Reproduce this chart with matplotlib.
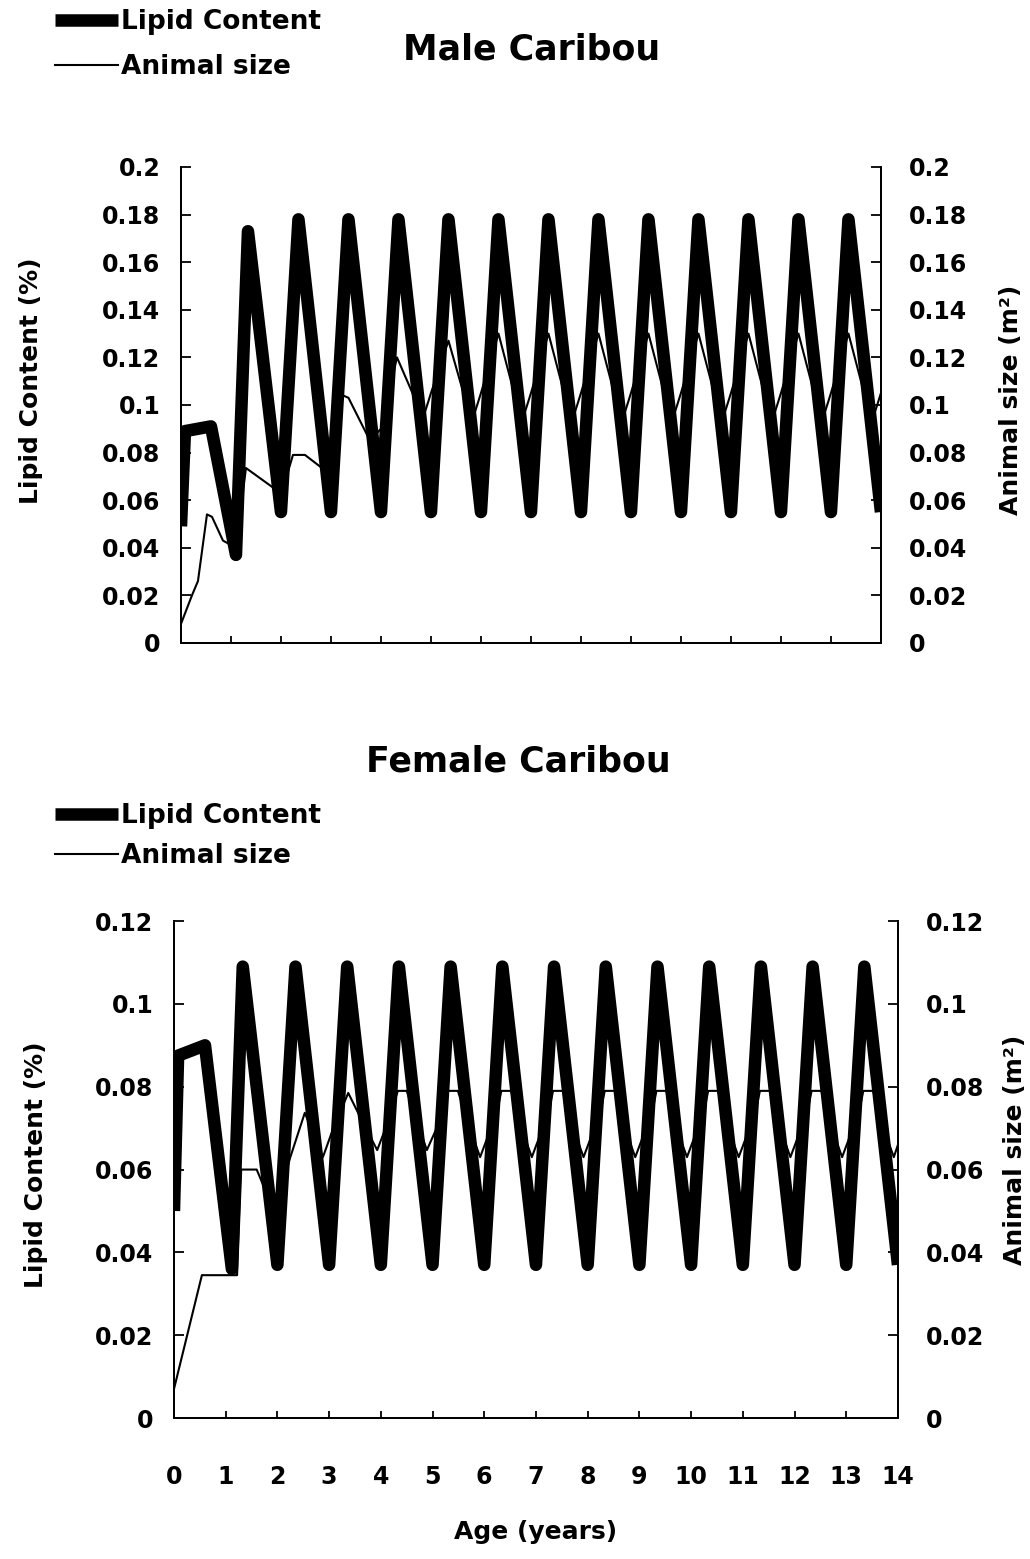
import matplotlib.pyplot as plt

plt.rcParams['font.family'] = ['DejaVu Sans']
plt.rcParams['font.weight'] = 'bold'
plt.rcParams['axes.labelweight'] = 'bold'

# ---- Male caribou ----
male_lipid_t = [0.0, 0.08, 0.6, 1.1, 1.34, 2.0, 2.35, 3.0, 3.35, 4.0, 4.35, 5.0, 5.35,
                6.0, 6.35, 7.0, 7.35, 8.0, 8.35, 9.0, 9.35, 10.0, 10.35, 11.0, 11.35,
                12.0, 12.35, 13.0, 13.35, 14.0]
male_lipid = [0.049, 0.089, 0.091, 0.037, 0.173, 0.055, 0.178, 0.055, 0.178, 0.055, 0.178,
              0.055, 0.178, 0.055, 0.178, 0.055, 0.178, 0.055, 0.178, 0.055, 0.178,
              0.055, 0.178, 0.055, 0.178, 0.055, 0.178, 0.055, 0.178, 0.055]

male_size_t = [0.0, 0.22, 0.34, 0.52, 0.62, 0.84, 1.1, 1.3, 1.86, 2.0, 2.24, 2.48, 2.82,
               3.0, 3.24, 3.35, 3.78, 4.0, 4.32, 4.65, 4.88, 5.0, 5.35, 5.65, 5.88,
               6.0, 6.35, 6.65, 6.88, 7.0, 7.35, 7.65, 7.88, 8.0, 8.35, 8.65, 8.88,
               9.0, 9.35, 9.65, 9.88, 10.0, 10.35, 10.65, 10.88, 11.0, 11.35, 11.65, 11.88,
               12.0, 12.35, 12.65, 12.88, 13.0, 13.35, 13.65, 13.88, 14.0]
male_size = [0.008, 0.020, 0.026, 0.054, 0.053, 0.043, 0.040, 0.0735, 0.065, 0.062, 0.079, 0.079, 0.0735,
             0.072, 0.104, 0.103, 0.085, 0.090, 0.120, 0.104, 0.097, 0.105, 0.127, 0.105, 0.097,
             0.105, 0.130, 0.106, 0.097, 0.105, 0.130, 0.106, 0.097, 0.105, 0.130, 0.106, 0.097,
             0.105, 0.130, 0.106, 0.097, 0.105, 0.130, 0.106, 0.097, 0.105, 0.130, 0.106, 0.097,
             0.105, 0.130, 0.106, 0.097, 0.105, 0.130, 0.106, 0.097, 0.105]

male_yticks = [0, 0.02, 0.04, 0.06, 0.08, 0.1, 0.12, 0.14, 0.16, 0.18, 0.2]
male_ylabels = ['0', '0.02', '0.04', '0.06', '0.08', '0.1', '0.12', '0.14', '0.16', '0.18', '0.2']

# ---- Female caribou ----
female_lipid_t = [0.0, 0.08, 0.6, 1.12, 1.33, 2.0, 2.35, 3.0, 3.35, 4.0, 4.35, 5.0, 5.35,
                  6.0, 6.35, 7.0, 7.35, 8.0, 8.35, 9.0, 9.35, 10.0, 10.35, 11.0, 11.35,
                  12.0, 12.35, 13.0, 13.35, 14.0]
female_lipid = [0.050, 0.0875, 0.090, 0.036, 0.109, 0.037, 0.109, 0.037, 0.109, 0.037, 0.109,
                0.037, 0.109, 0.037, 0.109, 0.037, 0.109, 0.037, 0.109, 0.037, 0.109,
                0.037, 0.109, 0.037, 0.109, 0.037, 0.109, 0.037, 0.109, 0.037]

female_size_t = [0.0, 0.54, 1.22, 1.3, 1.6, 1.8, 2.0, 2.25, 2.53, 2.88, 3.07, 3.37, 3.6,
                 3.93, 4.08, 4.33, 4.5, 4.89, 5.08, 5.3, 5.49, 5.72, 5.92,
                 6.25, 6.33, 6.52, 6.72, 6.92, 7.25, 7.33, 7.52, 7.72, 7.92,
                 8.25, 8.33, 8.52, 8.72, 8.92, 9.25, 9.33, 9.52, 9.72, 9.92,
                 10.25, 10.33, 10.52, 10.72, 10.92, 11.25, 11.33, 11.52, 11.72, 11.92,
                 12.25, 12.33, 12.52, 12.72, 12.92, 13.25, 13.33, 13.52, 13.72, 13.92, 14.0]
female_size = [0.007, 0.0345, 0.0345, 0.060, 0.060, 0.054, 0.052, 0.063, 0.0737, 0.063, 0.0696, 0.0785, 0.0727,
               0.0647, 0.0696, 0.079, 0.079, 0.0647, 0.070, 0.079, 0.079, 0.070, 0.063,
               0.074, 0.079, 0.079, 0.070, 0.063, 0.074, 0.079, 0.079, 0.070, 0.063,
               0.074, 0.079, 0.079, 0.070, 0.063, 0.074, 0.079, 0.079, 0.070, 0.063,
               0.074, 0.079, 0.079, 0.070, 0.063, 0.074, 0.079, 0.079, 0.070, 0.063,
               0.074, 0.079, 0.079, 0.070, 0.063, 0.074, 0.079, 0.079, 0.070, 0.063, 0.066]

female_yticks = [0, 0.02, 0.04, 0.06, 0.08, 0.1, 0.12]
female_ylabels = ['0', '0.02', '0.04', '0.06', '0.08', '0.1', '0.12']

age_ticks = list(range(0, 15))
age_labels = [str(a) for a in age_ticks]


def draw_panel(ax, lip_t, lip, size_t, size, yticks, ylabels, ymax):
    axr = ax.twinx()
    thin, = axr.plot(size_t, size, color='black', lw=1.5)
    thick, = ax.plot(lip_t, lip, color='black', lw=9,
                     solid_joinstyle='round', solid_capstyle='butt')
    # lipid line drawn over the size line
    ax.set_zorder(axr.get_zorder() + 1)
    ax.patch.set_visible(False)
    for a in (ax, axr):
        a.set_xlim(0, 14)
        a.set_ylim(0, ymax)
        a.set_yticks(yticks)
        a.set_yticklabels(ylabels)
        a.set_xticks(age_ticks)
        a.spines['top'].set_visible(False)
        for s in a.spines.values():
            s.set_linewidth(1.4)
        a.tick_params(axis='y', direction='in', length=7, width=1.3, labelsize=17)
        a.tick_params(axis='x', direction='in', length=5, width=1.3, labelsize=17)
    ax.tick_params(axis='y', pad=15)
    axr.tick_params(axis='y', pad=20)
    return axr, thick, thin


fig = plt.figure(figsize=(10.3, 15.59), dpi=100)

# top panel
ax1 = fig.add_axes([0.1757, 0.5876, 0.6796, 0.3053])
ax1r, thick1, thin1 = draw_panel(ax1, male_lipid_t, male_lipid, male_size_t, male_size,
                                 male_yticks, male_ylabels, 0.2)
ax1.set_xticklabels([])
ax1.set_ylabel('Lipid Content (%)', fontsize=18)
ax1.yaxis.set_label_coords(-0.197, 0.55)
ax1r.set_ylabel('Animal size (m²)', fontsize=18)
ax1r.yaxis.set_label_coords(1.168, 0.51)
fig.text(0.516, 1 - 50 / 1559, 'Male Caribou', ha='center', va='center', fontsize=25)
fig.legend([thick1, thin1], ['Lipid Content', 'Animal size'], loc='upper left',
           bbox_to_anchor=(0.053, 0.994), frameon=False, fontsize=19,
           handlelength=2.4, handletextpad=0.1, labelspacing=0.72,
           borderpad=0, borderaxespad=0)

# bottom panel
ax2 = fig.add_axes([0.1689, 0.0904, 0.7029, 0.3188])
ax2r, thick2, thin2 = draw_panel(ax2, female_lipid_t, female_lipid, female_size_t, female_size,
                                 female_yticks, female_ylabels, 0.12)
ax2.set_xticklabels(age_labels)
ax2.tick_params(axis='x', pad=34)
ax2.set_xlabel('Age (years)', fontsize=18, labelpad=22)
ax2.set_ylabel('Lipid Content (%)', fontsize=18)
ax2.yaxis.set_label_coords(-0.174, 0.51)
ax2r.set_ylabel('Animal size (m²)', fontsize=18)
ax2r.yaxis.set_label_coords(1.145, 0.54)
fig.text(0.503, 1 - 762 / 1559, 'Female Caribou', ha='center', va='center', fontsize=25)
fig.legend([thick2, thin2], ['Lipid Content', 'Animal size'], loc='upper left',
           bbox_to_anchor=(0.053, 0.485), frameon=False, fontsize=19,
           handlelength=2.4, handletextpad=0.1, labelspacing=0.55,
           borderpad=0, borderaxespad=0)

plt.savefig('out.png', dpi=100)
